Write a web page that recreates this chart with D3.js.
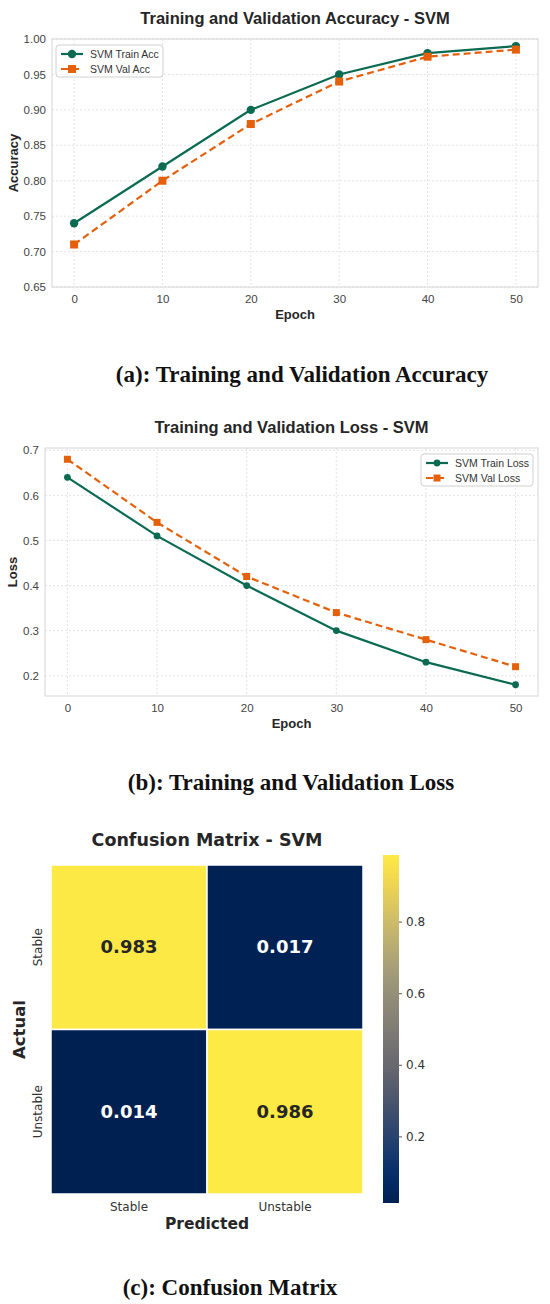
<!DOCTYPE html>
<html>
<head>
<meta charset="utf-8">
<script src="https://cdn.jsdelivr.net/npm/d3@7"></script>
<style>
  body { margin: 0; background: #fff; }
  svg { display: block; }
</style>
</head>
<body>
<script>
// data
const epochs = [0, 10, 20, 30, 40, 50];
const trainAcc = [0.74, 0.82, 0.90, 0.95, 0.98, 0.99];
const valAcc = [0.71, 0.80, 0.88, 0.94, 0.975, 0.985];
const trainLoss = [0.64, 0.51, 0.40, 0.30, 0.23, 0.18];
const valLoss = [0.68, 0.54, 0.42, 0.34, 0.28, 0.22];
const accTicks = [0.65, 0.70, 0.75, 0.80, 0.85, 0.90, 0.95, 1.00];
const lossTicks = [0.2, 0.3, 0.4, 0.5, 0.6, 0.7];
const classes = ["Stable", "Unstable"];
const matrix = [[0.983, 0.017], [0.014, 0.986]];
const cbarTicks = [0.2, 0.4, 0.6, 0.8];

const width = 550, height = 1304;
const green = "#0b6b52", orange = "#e5600b";
const sans = "'Liberation Sans', Arial, sans-serif";
const dejavu = "'DejaVu Sans', sans-serif";
const serif = "'Liberation Serif', 'DejaVu Serif', serif";

const svg = d3.select("body").append("svg")
  .attr("width", width).attr("height", height);

// line chart helper
const lineChart = (opt) => {
  const g = svg.append("g");
  const x = d3.scaleLinear().domain([-2.5, 52.5]).range([opt.x0, opt.x1]);
  const y = d3.scaleLinear().domain(opt.yDomain).range([opt.y1, opt.y0]);

  // grid
  g.selectAll(".vg").data(epochs).enter().append("line")
    .attr("x1", d => x(d)).attr("x2", d => x(d))
    .attr("y1", opt.y0).attr("y2", opt.y1)
    .attr("stroke", "#dcdcdc").attr("stroke-width", 0.8).attr("stroke-dasharray", "2,2");
  g.selectAll(".hg").data(opt.yTicks).enter().append("line")
    .attr("x1", opt.x0).attr("x2", opt.x1)
    .attr("y1", d => y(d)).attr("y2", d => y(d))
    .attr("stroke", "#dcdcdc").attr("stroke-width", 0.8).attr("stroke-dasharray", "2,2");

  g.append("rect")
    .attr("x", opt.x0).attr("y", opt.y0)
    .attr("width", opt.x1 - opt.x0).attr("height", opt.y1 - opt.y0)
    .attr("fill", "none").attr("stroke", "#d6d6d6").attr("stroke-width", 1);

  // axes
  const xAxis = g.append("g").attr("transform", `translate(0,${opt.y1})`)
    .call(d3.axisBottom(x).tickValues(epochs).tickSize(0).tickPadding(8));
  const yAxis = g.append("g").attr("transform", `translate(${opt.x0},0)`)
    .call(d3.axisLeft(y).tickValues(opt.yTicks).tickSize(0).tickPadding(6).tickFormat(opt.fmt));
  [xAxis, yAxis].forEach(a => {
    a.select(".domain").remove();
    a.selectAll("text").attr("font-family", sans).attr("font-size", 11.5).attr("fill", "#444");
  });

  // series
  const line = d3.line().x((d, i) => x(epochs[i])).y(d => y(d));
  g.append("path").datum(opt.train).attr("d", line)
    .attr("fill", "none").attr("stroke", green).attr("stroke-width", 2.2);
  g.append("path").datum(opt.val).attr("d", line)
    .attr("fill", "none").attr("stroke", orange).attr("stroke-width", 2.2)
    .attr("stroke-dasharray", "7,4");
  g.selectAll(".tm").data(opt.train).enter().append("circle")
    .attr("cx", (d, i) => x(epochs[i])).attr("cy", d => y(d))
    .attr("r", opt.mr).attr("fill", green);
  g.selectAll(".vm").data(opt.val).enter().append("rect")
    .attr("x", (d, i) => x(epochs[i]) - opt.ms / 2).attr("y", d => y(d) - opt.ms / 2)
    .attr("width", opt.ms).attr("height", opt.ms).attr("fill", orange);

  // titles
  g.append("text").attr("x", (opt.x0 + opt.x1) / 2).attr("y", opt.y0 - 15)
    .attr("text-anchor", "middle").attr("font-family", sans).attr("font-weight", "bold")
    .attr("font-size", 16.5).attr("fill", "#262626").text(opt.title);
  g.append("text").attr("x", (opt.x0 + opt.x1) / 2).attr("y", opt.y1 + 32)
    .attr("text-anchor", "middle").attr("font-family", sans).attr("font-weight", "bold")
    .attr("font-size", 13).attr("fill", "#262626").text("Epoch");
  g.append("text")
    .attr("transform", `translate(${opt.ylx},${(opt.y0 + opt.y1) / 2}) rotate(-90)`)
    .attr("text-anchor", "middle").attr("font-family", sans).attr("font-weight", "bold")
    .attr("font-size", 13).attr("fill", "#262626").text(opt.ylabel);

  // legend
  const lg = g.append("g").attr("transform", `translate(${opt.lx},${opt.ly})`);
  lg.append("rect").attr("width", opt.lw).attr("height", 32).attr("rx", 3)
    .attr("fill", "#fff").attr("fill-opacity", 0.8).attr("stroke", "#d0d0d0");
  opt.labels.forEach((lab, i) => {
    const cy = 9 + i * 15;
    lg.append("line").attr("x1", 5).attr("x2", 27).attr("y1", cy).attr("y2", cy)
      .attr("stroke", i ? orange : green).attr("stroke-width", 2.2)
      .attr("stroke-dasharray", i ? "7,4" : null);
    if (i) {
      lg.append("rect").attr("x", 16 - opt.ms / 2).attr("y", cy - opt.ms / 2)
        .attr("width", opt.ms).attr("height", opt.ms).attr("fill", orange);
    } else {
      lg.append("circle").attr("cx", 16).attr("cy", cy).attr("r", opt.mr).attr("fill", green);
    }
    lg.append("text").attr("x", 34).attr("y", cy + 4)
      .attr("font-family", sans).attr("font-size", 10.5).attr("fill", "#333").text(lab);
  });
};

lineChart({
  x0: 52, x1: 538, y0: 39, y1: 287,
  yDomain: [0.65, 1.0], yTicks: accTicks, fmt: d3.format(".2f"),
  train: trainAcc, val: valAcc, mr: 4.2, ms: 8,
  title: "Training and Validation Accuracy - SVM", ylabel: "Accuracy", ylx: 18,
  labels: ["SVM Train Acc", "SVM Val Acc"], lx: 56, ly: 45, lw: 107
});

lineChart({
  x0: 45, x1: 538, y0: 448, y1: 696,
  yDomain: [0.155, 0.705], yTicks: lossTicks, fmt: d3.format(".1f"),
  train: trainLoss, val: valLoss, mr: 3.4, ms: 7,
  title: "Training and Validation Loss - SVM", ylabel: "Loss", ylx: 17,
  labels: ["SVM Train Loss", "SVM Val Loss"], lx: 421, ly: 454, lw: 112
});

// captions
const caption = (txt, cx, y) => svg.append("text").attr("x", cx).attr("y", y)
  .attr("text-anchor", "middle").attr("font-family", serif).attr("font-weight", "bold")
  .attr("font-size", 23).attr("fill", "#111").text(txt);
caption("(a): Training and Validation Accuracy", 302, 382);
caption("(b): Training and Validation Loss", 291, 790);
caption("(c): Confusion Matrix", 230, 1295);

// confusion matrix
const hm = { x0: 51, x1: 363, y0: 865, y1: 1194 };
const cx = d3.scaleBand().domain(classes).range([hm.x0, hm.x1]);
const cy = d3.scaleBand().domain(classes).range([hm.y0, hm.y1]);
const color = d3.scaleSequential(d3.interpolateCividis).domain([0.014, 0.986]);

const cells = [];
matrix.forEach((row, i) => row.forEach((v, j) => cells.push({ r: classes[i], c: classes[j], v })));

svg.selectAll(".cell").data(cells).enter().append("rect")
  .attr("x", d => cx(d.c)).attr("y", d => cy(d.r))
  .attr("width", cx.bandwidth()).attr("height", cy.bandwidth())
  .attr("fill", d => color(d.v)).attr("stroke", "#fff").attr("stroke-width", 1.5);
svg.selectAll(".cellText").data(cells).enter().append("text")
  .attr("x", d => cx(d.c) + cx.bandwidth() / 2).attr("y", d => cy(d.r) + cy.bandwidth() / 2 + 6)
  .attr("text-anchor", "middle").attr("font-family", dejavu).attr("font-weight", "bold")
  .attr("font-size", 18).attr("fill", d => d.v > 0.5 ? "#262626" : "#fff")
  .text(d => d3.format(".3f")(d.v));

svg.append("text").attr("x", 207).attr("y", 846).attr("text-anchor", "middle")
  .attr("font-family", dejavu).attr("font-weight", "bold").attr("font-size", 17.5)
  .attr("fill", "#262626").text("Confusion Matrix - SVM");

const hx = svg.append("g").attr("transform", `translate(0,${hm.y1})`)
  .call(d3.axisBottom(cx).tickSize(0).tickPadding(8));
const hy = svg.append("g").attr("transform", `translate(${hm.x0},0)`)
  .call(d3.axisLeft(cy).tickSize(0).tickPadding(8));
hx.select(".domain").remove();
hy.select(".domain").remove();
hx.selectAll("text").attr("font-family", dejavu).attr("font-size", 12).attr("fill", "#333");
// y tick labels run vertically
hy.selectAll(".tick text")
  .attr("font-family", dejavu).attr("font-size", 12).attr("fill", "#333")
  .attr("x", 0).attr("dy", 0).attr("text-anchor", "middle")
  .attr("transform", "translate(-9,0) rotate(-90)");

svg.append("text").attr("x", (hm.x0 + hm.x1) / 2).attr("y", 1229).attr("text-anchor", "middle")
  .attr("font-family", dejavu).attr("font-weight", "bold").attr("font-size", 15.5)
  .attr("fill", "#262626").text("Predicted");
svg.append("text").attr("transform", `translate(25,${(hm.y0 + hm.y1) / 2}) rotate(-90)`)
  .attr("text-anchor", "middle").attr("font-family", dejavu).attr("font-weight", "bold")
  .attr("font-size", 16.5).attr("fill", "#262626").text("Actual");

// colorbar
const cb = { x0: 383, x1: 399, y0: 855, y1: 1203 };
const cbScale = d3.scaleLinear().domain([0.014, 0.986]).range([cb.y1, cb.y0]);
const defs = svg.append("defs");
const grad = defs.append("linearGradient").attr("id", "cbar")
  .attr("x1", 0).attr("y1", 1).attr("x2", 0).attr("y2", 0);
d3.range(0, 1.0001, 0.05).forEach(t => {
  grad.append("stop").attr("offset", t).attr("stop-color", d3.interpolateCividis(t));
});
svg.append("rect").attr("x", cb.x0).attr("y", cb.y0)
  .attr("width", cb.x1 - cb.x0).attr("height", cb.y1 - cb.y0).attr("fill", "url(#cbar)");
const cbAxis = svg.append("g").attr("transform", `translate(${cb.x1},0)`)
  .call(d3.axisRight(cbScale).tickValues(cbarTicks).tickSize(3).tickPadding(4).tickFormat(d3.format(".1f")));
cbAxis.select(".domain").remove();
cbAxis.selectAll("line").attr("stroke", "#555");
cbAxis.selectAll("text").attr("font-family", dejavu).attr("font-size", 12).attr("fill", "#333");
</script>
</body>
</html>
